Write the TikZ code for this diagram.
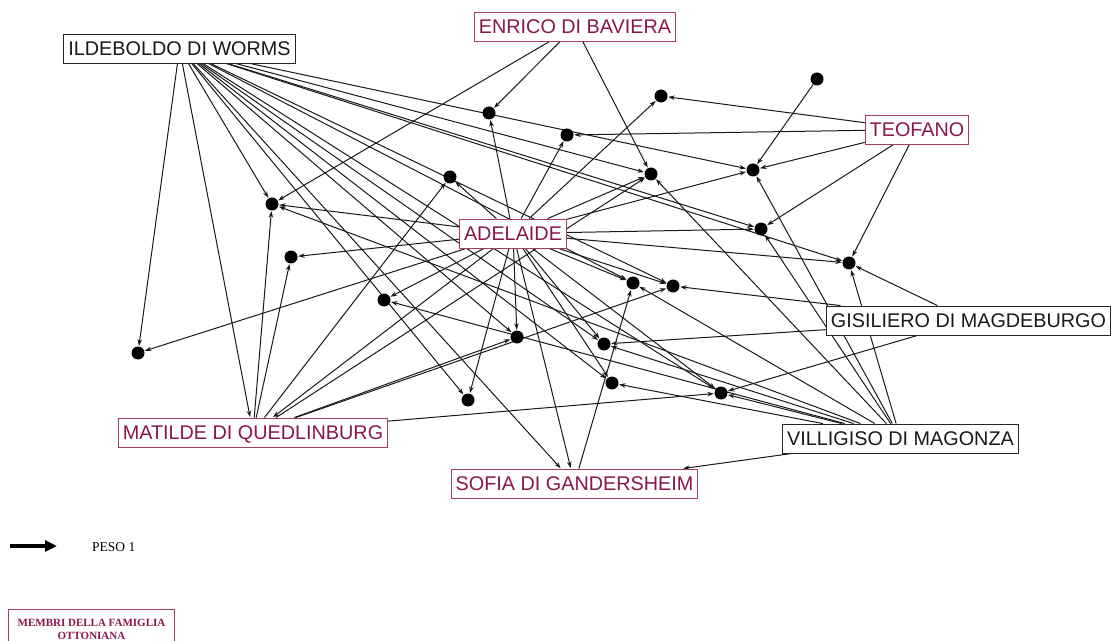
\documentclass[tikz,border=0pt]{standalone}
\usepackage{fontspec}
\setmainfont{Liberation Sans}
\newfontfamily\legendfont{Liberation Serif}
\usetikzlibrary{arrows.meta}
\definecolor{famtext}{RGB}{138,22,78}
\definecolor{famline}{RGB}{160,62,104}
\pgfdeclarelayer{edges}
\pgfsetlayers{edges,main}
\begin{document}
\begin{tikzpicture}[x=1bp,y=-1bp,
  person/.style={draw=black!85, line width=0.9bp, fill=white, inner xsep=4.5bp,
    inner ysep=0bp, minimum height=29bp, text height=14bp, text depth=0bp,
    font=\fontsize{19.8bp}{22bp}\selectfont, text=black!90},
  family/.style={person, draw=famline, text=famtext},
  dot/.style={circle, fill=black, inner sep=0pt, minimum size=13bp},
  link/.style={draw=black!90, line width=1bp, -{Stealth[length=6.5bp,width=4.5bp]}, shorten >=0.5bp},
]
\clip (0,0) rectangle (1114,641);
\useasboundingbox (0,0) rectangle (1114,641);

% people
\node[person] (ild) at (179.5,48.5) {ILDEBOLDO DI WORMS};
\node[family] (enr) at (575,26.5) {ENRICO DI BAVIERA};
\node[family] (teo) at (917,129.5) {TEOFANO};
\node[family] (ade) at (513,233.5) {ADELAIDE};
\node[person] (gis) at (968.5,320.5) {GISILIERO DI MAGDEBURGO};
\node[family] (mat) at (253,432.5) {MATILDE DI QUEDLINBURG};
\node[person] (vil) at (900.5,438.5) {VILLIGISO DI MAGONZA};
\node[family] (sof) at (574.5,483.5) {SOFIA DI GANDERSHEIM};

% unnamed points
\foreach \n/\p in {d1/{(489,113)}, d2/{(661,96)}, d3/{(817,79)}, d4/{(567,135)},
  d5/{(651,174)}, d6/{(753,170)}, d7/{(450,177)}, d8/{(272,204)}, d9/{(761,229)},
  d10/{(291,257)}, d11/{(849,263)}, d12/{(633,283)}, d13/{(673,286)},
  d14/{(384,300)}, d15/{(517,337)}, d16/{(604,344)}, d17/{(138,353)},
  d18/{(612,383)}, d19/{(721,393)}, d20/{(468,400)}}
  \node[dot] (\n) at \p {};

% ties
\begin{pgfonlayer}{edges}
\foreach \a/\b in {
  ild/d17, ild/mat, ild/d8, ild/d20, ild/sof, ild/d15, ild/d16, ild/d18, ild/d19,
  ild/d12, ild/d13, ild/d11, ild/d9, ild/d6, ild/d5,
  enr/d8, enr/d1, enr/d5,
  teo/d2, teo/d4, teo/d6, teo/d9, teo/d11,
  d3/d6,
  ade/d1, ade/d4, ade/d2, ade/d5, ade/d6, ade/d7, ade/d8, ade/d9, ade/d10, ade/d11,
  ade/d12, ade/d13, ade/d14, ade/d15, ade/d16, ade/d17, ade/d18, ade/d19, ade/d20,
  ade/sof, ade/mat,
  mat/d8, mat/d10, mat/d7, mat/d5, mat/d15, mat/d13, mat/d19,
  gis/d13, gis/d16, gis/d19, gis/d11,
  vil/d19, vil/d18, vil/d16, vil/d12, vil/d5, vil/d6, vil/d9, vil/d11, vil/d8,
  vil/d14, vil/sof,
  sof/d12}
  \draw[link] (\a) -- (\b);
\end{pgfonlayer}

% legend
\coordinate (lega) at (10,546);
\coordinate (legb) at (57,546);
\draw[line width=3.5bp, -{Triangle[length=12bp,width=11bp]}] (lega) -- (legb);
\node[font=\legendfont\fontsize{13.5bp}{15bp}\selectfont, anchor=west, inner sep=0pt] (peso) at (92,547) {PESO 1};
\node[draw=famline, line width=1bp, minimum width=165bp, minimum height=40bp,
  align=center, text=famtext, inner sep=0pt,
  font=\legendfont\bfseries\fontsize{11bp}{13bp}\selectfont] (legbox) at (91.5,629)
  {MEMBRI DELLA FAMIGLIA\\OTTONIANA};
\end{tikzpicture}
\end{document}
